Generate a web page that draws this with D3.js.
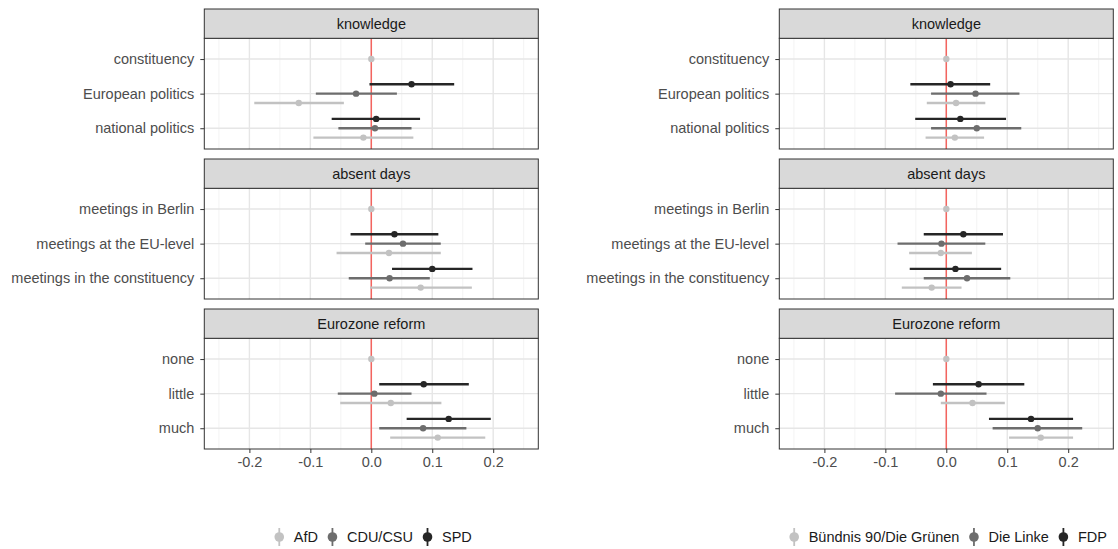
<!DOCTYPE html>
<html>
<head>
<meta charset="utf-8">
<script src="https://cdn.jsdelivr.net/npm/d3@7"></script>
<style>
  html, body { margin: 0; padding: 0; background: #fff; }
  svg { display: block; font-family: "Liberation Sans", Arial, Helvetica, sans-serif; }
</style>
</head>
<body>
<svg id="chart" width="1118" height="549"></svg>
<script>
// ---------- DATA ----------
const facets = ["knowledge", "absent days", "Eurozone reform"];
const facetLevels = [
  ["constituency", "European politics", "national politics"],
  ["meetings in Berlin", "meetings at the EU-level", "meetings in the constituency"],
  ["none", "little", "much"]
];
const xTicks = [-0.2, -0.1, 0.0, 0.1, 0.2];
const xTickLabels = ["-0.2", "-0.1", "0.0", "0.1", "0.2"];

const partiesLeft = ["AfD", "CDU/CSU", "SPD"];
const partiesRight = ["Bündnis 90/Die Grünen", "Die Linke", "FDP"];
const partyColors = ["#c2c2c2", "#6d6d6d", "#262626"];

// each row: [facet index, level index, party index, estimate, lower, upper]
const leftEstimates = [
  [0, 0, 0, 0, 0, 0],
  [0, 1, 2, 0.066, -0.003, 0.136],
  [0, 1, 1, -0.025, -0.091, 0.042],
  [0, 1, 0, -0.119, -0.192, -0.045],
  [0, 2, 2, 0.008, -0.065, 0.080],
  [0, 2, 1, 0.006, -0.054, 0.066],
  [0, 2, 0, -0.013, -0.095, 0.069],
  [1, 0, 0, 0, 0, 0],
  [1, 1, 2, 0.038, -0.034, 0.110],
  [1, 1, 1, 0.052, -0.010, 0.114],
  [1, 1, 0, 0.029, -0.057, 0.114],
  [1, 2, 2, 0.100, 0.034, 0.166],
  [1, 2, 1, 0.030, -0.037, 0.096],
  [1, 2, 0, 0.081, -0.002, 0.165],
  [2, 0, 0, 0, 0, 0],
  [2, 1, 2, 0.086, 0.013, 0.160],
  [2, 1, 1, 0.005, -0.055, 0.066],
  [2, 1, 0, 0.032, -0.051, 0.115],
  [2, 2, 2, 0.127, 0.058, 0.196],
  [2, 2, 1, 0.085, 0.013, 0.156],
  [2, 2, 0, 0.109, 0.031, 0.187]
];
const rightEstimates = [
  [0, 0, 0, 0, 0, 0],
  [0, 1, 2, 0.007, -0.059, 0.072],
  [0, 1, 1, 0.048, -0.025, 0.120],
  [0, 1, 0, 0.016, -0.032, 0.064],
  [0, 2, 2, 0.023, -0.051, 0.098],
  [0, 2, 1, 0.050, -0.025, 0.123],
  [0, 2, 0, 0.014, -0.034, 0.062],
  [1, 0, 0, 0, 0, 0],
  [1, 1, 2, 0.028, -0.037, 0.093],
  [1, 1, 1, -0.008, -0.080, 0.064],
  [1, 1, 0, -0.009, -0.061, 0.042],
  [1, 2, 2, 0.015, -0.060, 0.090],
  [1, 2, 1, 0.034, -0.037, 0.105],
  [1, 2, 0, -0.024, -0.073, 0.025],
  [2, 0, 0, 0, 0, 0],
  [2, 1, 2, 0.053, -0.022, 0.128],
  [2, 1, 1, -0.009, -0.084, 0.066],
  [2, 1, 0, 0.043, -0.009, 0.096],
  [2, 2, 2, 0.139, 0.070, 0.208],
  [2, 2, 1, 0.150, 0.076, 0.223],
  [2, 2, 0, 0.155, 0.103, 0.208]
];

// ---------- LAYOUT ----------
const svg = d3.select("#chart");
const xDomain = [-0.274, 0.274];
const panelTops = [9, 159, 309];      // strip tops
const stripH = 29.3;
const panelH = 110.7;
const fontSize = 14.5;

function drawPlot(x0, x1, estimates, parties) {
  const g = svg.append("g");
  const x = d3.scaleLinear().domain(xDomain).range([x0, x1]);
  const minorTicks = [-0.25, -0.15, -0.05, 0.05, 0.15, 0.25];

  facets.forEach((fname, fi) => {
    const sTop = panelTops[fi];
    const pTop = sTop + stripH;
    const pBot = pTop + panelH;
    // discrete scale with 0.6 expansion
    const y = d3.scalePoint().domain(facetLevels[fi]).range([pTop, pBot]).padding(0.6);
    const step = y.step();
    const dodge = 0.27 * step;

    const pg = g.append("g");
    pg.append("rect").attr("x", x0).attr("y", pTop).attr("width", x1 - x0).attr("height", panelH)
      .attr("fill", "#fff");
    // minor grid
    pg.selectAll(".minor").data(minorTicks).enter().append("line")
      .attr("x1", d => x(d)).attr("x2", d => x(d)).attr("y1", pTop).attr("y2", pBot)
      .attr("stroke", "#f0f0f0").attr("stroke-width", 0.8);
    // major grid
    pg.selectAll(".majx").data(xTicks).enter().append("line")
      .attr("x1", d => x(d)).attr("x2", d => x(d)).attr("y1", pTop).attr("y2", pBot)
      .attr("stroke", "#e6e6e6").attr("stroke-width", 1.4);
    pg.selectAll(".majy").data(facetLevels[fi]).enter().append("line")
      .attr("x1", x0).attr("x2", x1).attr("y1", d => y(d)).attr("y2", d => y(d))
      .attr("stroke", "#e6e6e6").attr("stroke-width", 1.4);
    // red reference line
    pg.append("line").attr("x1", x(0)).attr("x2", x(0)).attr("y1", pTop).attr("y2", pBot)
      .attr("stroke", "#F4645F").attr("stroke-width", 1.5);

    // estimates
    const rows = estimates.filter(r => r[0] === fi);
    rows.forEach(r => {
      const lvl = facetLevels[fi][r[1]];
      let cy = y(lvl);
      if (r[1] !== 0) cy += (1 - r[2]) * dodge;  // SPD/FDP top, AfD/Grüne bottom
      const col = partyColors[r[2]];
      if (r[5] !== r[4]) {
        pg.append("line").attr("x1", x(r[4])).attr("x2", x(r[5])).attr("y1", cy).attr("y2", cy)
          .attr("stroke", col).attr("stroke-width", 2.4);
      }
      pg.append("circle").attr("cx", x(r[3])).attr("cy", cy).attr("r", 3.2).attr("fill", col);
    });

    // panel border
    pg.append("rect").attr("x", x0).attr("y", pTop).attr("width", x1 - x0).attr("height", panelH)
      .attr("fill", "none").attr("stroke", "#333").attr("stroke-width", 1);
    // strip
    pg.append("rect").attr("x", x0).attr("y", sTop).attr("width", x1 - x0).attr("height", stripH)
      .attr("fill", "#d9d9d9").attr("stroke", "#333").attr("stroke-width", 1);
    pg.append("text").attr("x", (x0 + x1) / 2).attr("y", sTop + stripH / 2)
      .attr("dy", "0.35em").attr("text-anchor", "middle").attr("font-size", fontSize)
      .attr("fill", "#1a1a1a").text(fname);

    // y axis
    const yAxis = d3.axisLeft(y).tickSize(4).tickPadding(6);
    const ya = pg.append("g").attr("transform", `translate(${x0},0)`).call(yAxis);
    ya.select(".domain").remove();
    ya.selectAll(".tick line").attr("stroke", "#333").attr("stroke-width", 1);
    ya.selectAll(".tick text").attr("font-size", fontSize).attr("fill", "#4d4d4d")
      .attr("font-family", "Liberation Sans, Arial, sans-serif");

    if (fi === facets.length - 1) {
      const xAxis = d3.axisBottom(x).tickValues(xTicks).tickFormat((d, i) => xTickLabels[i])
        .tickSize(4).tickPadding(4);
      const xa = pg.append("g").attr("transform", `translate(0,${pBot})`).call(xAxis);
      xa.select(".domain").remove();
      xa.selectAll(".tick line").attr("stroke", "#333").attr("stroke-width", 1);
      xa.selectAll(".tick text").attr("font-size", fontSize).attr("fill", "#4d4d4d")
        .attr("font-family", "Liberation Sans, Arial, sans-serif");
    }
  });

  // legend
  const lg = g.append("g");
  const ly = 537;
  const keyW = 17, keyGap = 6, itemGap = 6;
  const items = parties.map((p, i) => {
    const t = lg.append("text").attr("y", ly).attr("dy", "0.35em").attr("font-size", fontSize)
      .attr("fill", "#1a1a1a").text(p);
    return { t, w: t.node().getComputedTextLength(), i };
  });
  const total = items.reduce((s, it) => s + keyW + keyGap + it.w, 0) + itemGap * (items.length - 1);
  let cx = (x0 + x1) / 2 - total / 2;
  items.forEach(it => {
    const kx = cx + keyW / 2;
    lg.append("line").attr("x1", kx).attr("x2", kx).attr("y1", ly - 9).attr("y2", ly + 9)
      .attr("stroke", partyColors[it.i]).attr("stroke-width", 1.8);
    lg.append("circle").attr("cx", kx).attr("cy", ly).attr("r", 4.8).attr("fill", partyColors[it.i]);
    it.t.attr("x", cx + keyW + keyGap);
    cx += keyW + keyGap + it.w + itemGap;
  });
}

drawPlot(204.3, 538.3, leftEstimates, partiesLeft);
drawPlot(779.3, 1113.3, rightEstimates, partiesRight);
</script>
</body>
</html>
